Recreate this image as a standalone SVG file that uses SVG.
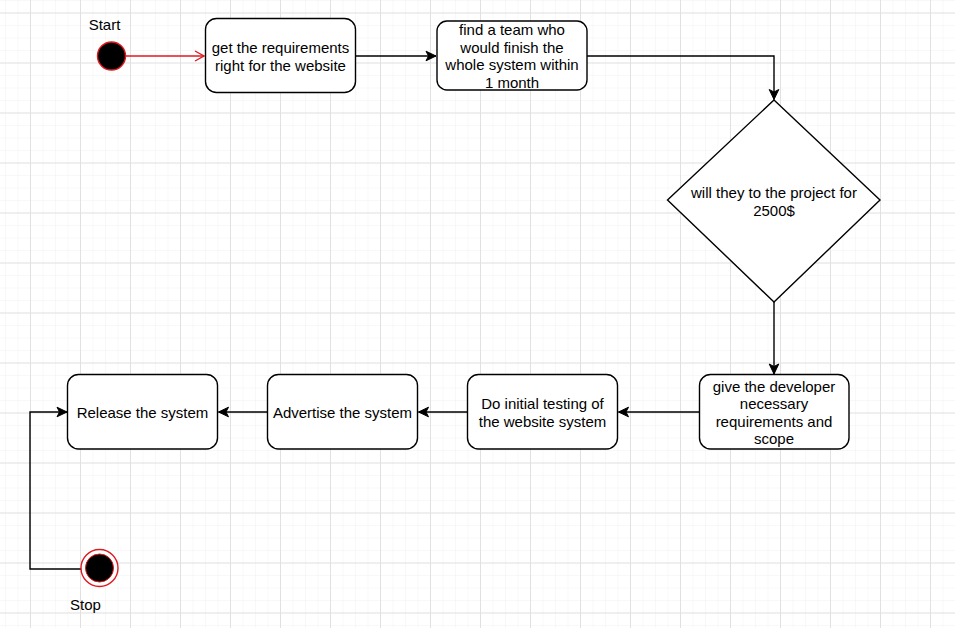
<svg xmlns="http://www.w3.org/2000/svg" width="955" height="628" viewBox="0 0 955 628">
<style>
.box{fill:#fff;stroke:#000;stroke-width:1.4}
.t{font-family:"Liberation Sans",Arial,sans-serif;font-size:15px;fill:#000;text-anchor:middle}
.c{fill:none;stroke:#000;stroke-width:1.4}
.cr{fill:none;stroke:#e0191e;stroke-width:1.4}
</style>
<defs>
<pattern id="minor" x="5" y="0" width="12.5" height="12.5" patternUnits="userSpaceOnUse">
<path d="M0,0V12.5M0,0H12.5" fill="none" stroke="#f1f1f1" stroke-width="1"/>
</pattern>
<pattern id="major" x="30" y="12.5" width="50" height="50" patternUnits="userSpaceOnUse">
<path d="M0.5,0V50M0,0.5H50" fill="none" stroke="#e1e1e1" stroke-width="1"/>
</pattern>
<marker id="arr" markerUnits="userSpaceOnUse" markerWidth="14" markerHeight="14" refX="12" refY="6" orient="auto" viewBox="0 0 14 12">
<path d="M12,6 L2,1.2 L4.5,6 L2,10.8 Z" fill="#000" stroke="#000" stroke-width="1"/>
</marker>
<marker id="open" markerUnits="userSpaceOnUse" markerWidth="14" markerHeight="14" refX="12" refY="6" orient="auto" viewBox="0 0 14 12">
<path d="M3,1 L12,6 L3,11" fill="none" stroke="#e0191e" stroke-width="1.4"/>
</marker>
</defs>
<rect width="955" height="628" fill="#fff"/>
<rect width="955" height="628" fill="url(#minor)"/>
<rect width="955" height="628" fill="url(#major)"/>

<g id="connectors">
<path class="cr" d="M126,56 H204" marker-end="url(#open)"/>
<path class="c" d="M355.5,56 H436" marker-end="url(#arr)"/>
<path class="c" d="M587,56 H774 V99.5" marker-end="url(#arr)"/>
<path class="c" d="M774,302 V374" marker-end="url(#arr)"/>
<path class="c" d="M699,412 H618.5" marker-end="url(#arr)"/>
<path class="c" d="M467,412 H418.5" marker-end="url(#arr)"/>
<path class="c" d="M267,412 H218.5" marker-end="url(#arr)"/>
<path class="c" d="M81,569 H30 V412 H67" marker-end="url(#arr)"/>
</g>

<g id="start">
<circle cx="111.5" cy="56" r="14" fill="#000" stroke="#e0191e" stroke-width="1.4"/>
<text class="t" x="104.5" y="29.5">Start</text>
</g>

<g id="node-requirements">
<rect class="box" x="205.5" y="18.5" width="150" height="74" rx="11"/>
<text class="t" x="280.5" y="53">get the requirements</text>
<text class="t" x="280.5" y="70.5">right for the website</text>
</g>

<g id="node-team">
<rect class="box" x="437" y="21" width="150" height="69" rx="10"/>
<text class="t" x="512" y="35">find a team who</text>
<text class="t" x="512" y="52.5">would finish the</text>
<text class="t" x="512" y="70">whole system within</text>
<text class="t" x="512" y="87.5">1 month</text>
</g>

<g id="node-decision">
<path class="box" d="M774,100 L880,200 L774,302 L667.5,200 Z"/>
<text class="t" x="774" y="198">will they to the project for</text>
<text class="t" x="774" y="216">2500$</text>
</g>

<g id="node-developer">
<rect class="box" x="699.5" y="374.5" width="149.5" height="74.5" rx="11"/>
<text class="t" x="774" y="391.5">give the developer</text>
<text class="t" x="774" y="409">necessary</text>
<text class="t" x="774" y="426.5">requirements and</text>
<text class="t" x="774" y="444">scope</text>
</g>

<g id="node-testing">
<rect class="box" x="467.5" y="374.5" width="150" height="74.5" rx="11"/>
<text class="t" x="542.5" y="409">Do initial testing of</text>
<text class="t" x="542.5" y="426.5">the website system</text>
</g>

<g id="node-advertise">
<rect class="box" x="267.5" y="374.5" width="150" height="74.5" rx="11"/>
<text class="t" x="342.5" y="418">Advertise the system</text>
</g>

<g id="node-release">
<rect class="box" x="67.5" y="374.5" width="150" height="74.5" rx="11"/>
<text class="t" x="142.5" y="418">Release the system</text>
</g>

<g id="stop">
<circle cx="99.5" cy="568" r="18.5" fill="#fff" stroke="#e0191e" stroke-width="1.4"/>
<circle cx="99.5" cy="568" r="14" fill="#000" stroke="#e0191e" stroke-width="1"/>
<text class="t" x="85.5" y="610">Stop</text>
</g>
</svg>
